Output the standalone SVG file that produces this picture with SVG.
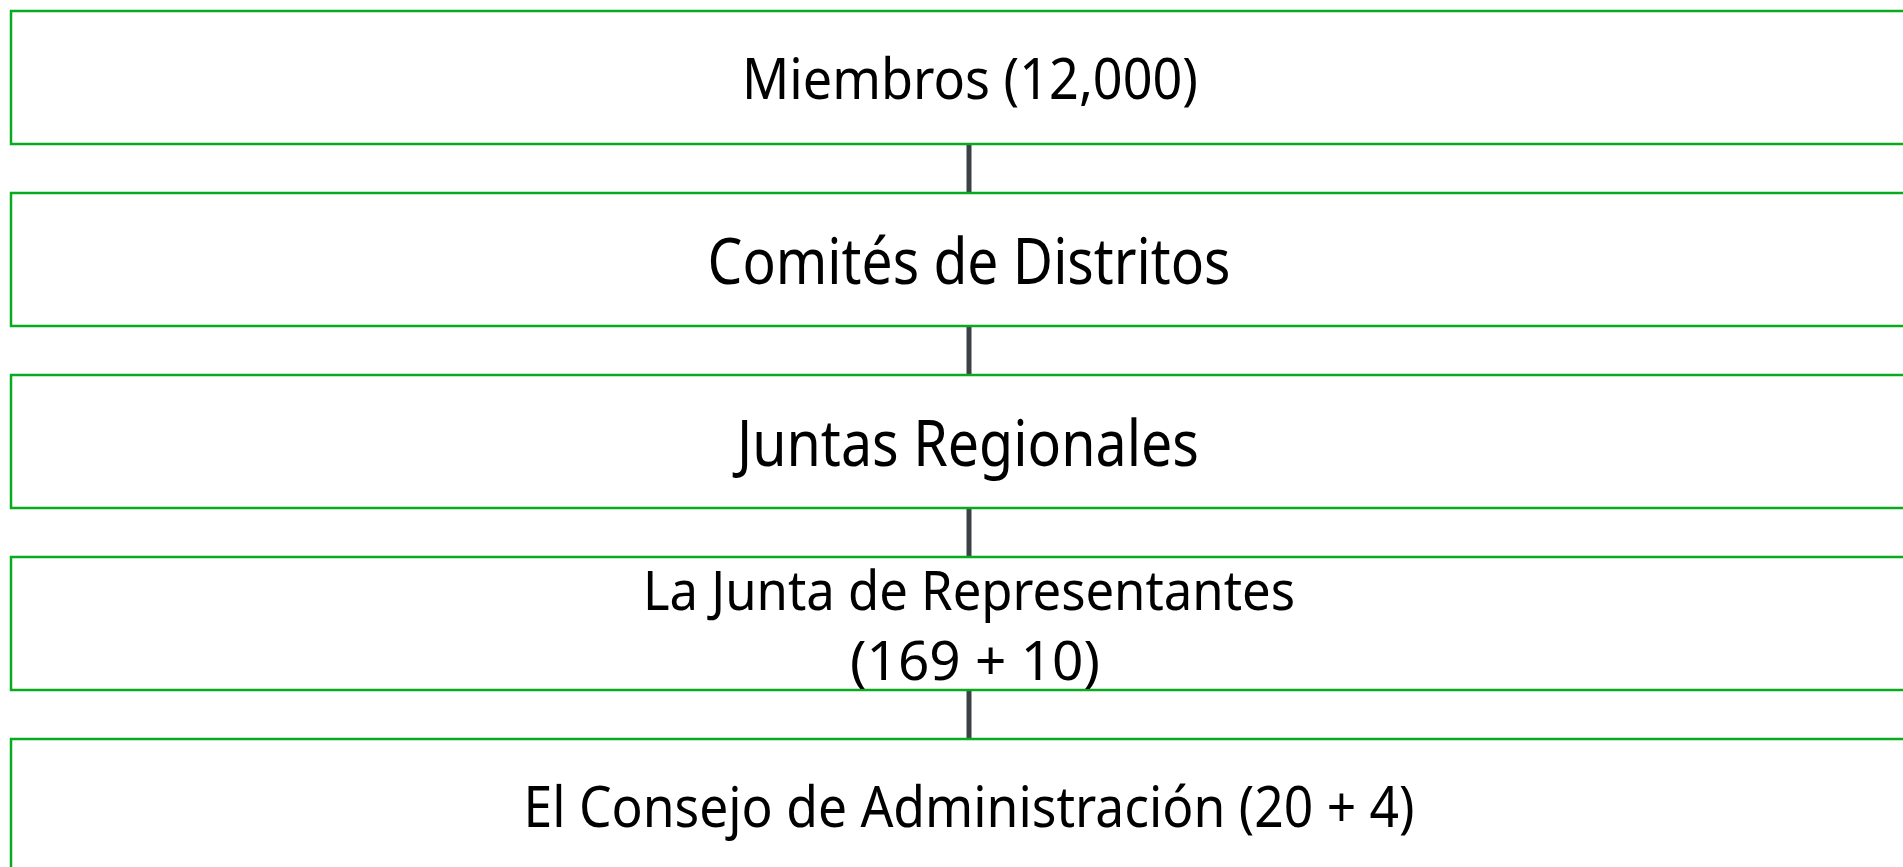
<svg xmlns="http://www.w3.org/2000/svg" width="1903" height="867" viewBox="0 0 1903 867">
<style>
.box{fill:#ffffff;stroke:#08aa1e;stroke-width:2.5}
.lbl{font-family:"Noto Sans","DejaVu Sans",sans-serif;fill:#000000;text-anchor:middle}
.conn{stroke:#3b4147;stroke-width:5;fill:none}
</style>
<rect x="0" y="0" width="1903" height="867" fill="#ffffff"/>
<g id="connectors">
<line class="conn" x1="969" y1="144" x2="969" y2="193"/>
<line class="conn" x1="969" y1="326" x2="969" y2="375"/>
<line class="conn" x1="969" y1="508" x2="969" y2="557"/>
<line class="conn" x1="969" y1="690" x2="969" y2="739"/>
</g>
<g id="miembros">
<rect class="box" x="11" y="11" width="1917" height="133"/>
<text class="lbl" x="970" y="99" font-size="57" textLength="456" lengthAdjust="spacingAndGlyphs">Miembros (12,000)</text>
</g>
<g id="comites">
<rect class="box" x="11" y="193" width="1917" height="133"/>
<text class="lbl" x="969" y="284" font-size="64" textLength="523" lengthAdjust="spacingAndGlyphs">Comités de Distritos</text>
</g>
<g id="juntas">
<rect class="box" x="11" y="375" width="1917" height="133"/>
<text class="lbl" x="968" y="466" font-size="64" textLength="462" lengthAdjust="spacingAndGlyphs">Juntas Regionales</text>
</g>
<g id="representantes">
<rect class="box" x="11" y="557" width="1917" height="133"/>
<text class="lbl" x="969" y="610" font-size="55" textLength="652" lengthAdjust="spacingAndGlyphs">La Junta de Representantes</text>
<text class="lbl" x="975" y="680" font-size="55" textLength="250" lengthAdjust="spacingAndGlyphs">(169 + 10)</text>
</g>
<g id="consejo">
<rect class="box" x="11" y="739" width="1917" height="133"/>
<text class="lbl" x="969" y="827" font-size="56" textLength="891" lengthAdjust="spacingAndGlyphs">El Consejo de Administración (20 + 4)</text>
</g>
</svg>
